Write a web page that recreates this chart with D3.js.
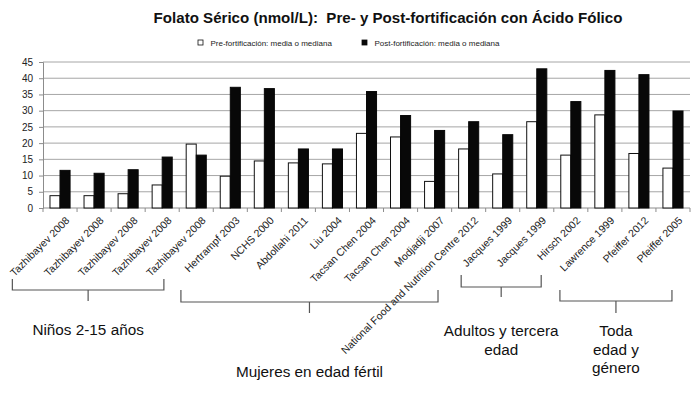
<!DOCTYPE html>
<html>
<head>
  <meta charset="utf-8">
  <title>Folato Sérico</title>
  <style>
    body { margin: 0; padding: 0; background: white; font-family: "Liberation Sans", Arial, sans-serif; }
    .grid line { stroke: #a6a6a6; stroke-width: 1; }
    .axis path, .axis line { stroke: #8c8c8c; }
    .axis text { fill: #222; font-size: 10px; }
    .pre { fill: white; stroke: #111; stroke-width: 1; }
    .post { fill: #080808; stroke: #080808; stroke-width: 1; }
    .bracket { fill: none; stroke: #555; stroke-width: 1.2; }
    .group-label { font-size: 15.3px; fill: #111; text-anchor: middle; }
  </style>
</head>
<body>
  <div id="chart"></div>
  <script src="https://d3js.org/d3.v7.min.js"></script>
  <script>
    // study labels along the x axis
    var studies = ["Tazhibayev 2008", "Tazhibayev 2008", "Tazhibayev 2008", "Tazhibayev 2008",
      "Tazhibayev 2008", "Hertrampf 2003", "NCHS 2000", "Abdollahi 2011", "Liu 2004",
      "Tacsan Chen 2004", "Tacsan Chen 2004", "Modjadji 2007",
      "National Food and Nutrition Centre 2012", "Jacques 1999", "Jacques 1999",
      "Hirsch 2002", "Lawrence 1999", "Pfeiffer 2012", "Pfeiffer 2005"]

    // serum folate, nmol/L
    var preValues = [3.8, 3.8, 4.4, 7.1, 19.7, 9.8, 14.5, 13.9, 13.6, 23.0, 21.9, 8.2,
      18.2, 10.5, 26.6, 16.3, 28.7, 16.8, 12.3]
    var postValues = [11.6, 10.7, 11.8, 15.7, 16.3, 37.2, 36.8, 18.2, 18.2, 35.9, 28.5, 23.9,
      26.6, 22.6, 42.9, 32.8, 42.4, 41.1, 29.9]

    var yTicks = [0, 5, 10, 15, 20, 25, 30, 35, 40, 45]

    var seriesNames = ["Pre-fortificación: media o mediana", "Post-fortificación: media o mediana"]

    // population groups: span in category units (brackets sit under the slanted labels)
    var groups = [
      { lines: ["Niños 2-15 años"], from: -0.9, to: 3.55 },
      { lines: ["Mujeres en edad fértil"], from: 4.05, to: 11.6 },
      { lines: ["Adultos y tercera", "edad"], from: 12.28, to: 14.63 },
      { lines: ["Toda", "edad y", "género"], from: 15.18, to: 18.47 }
    ]
    // bracket layout: top of end ticks, horizontal line, stem bottom, first text baseline
    var bracketLayout = [
      { top: 279, line: 290, stem: 301, text: 335 },
      { top: 290, line: 302, stem: 313, text: 377 },
      { top: 275, line: 287, stem: 297, text: 336 },
      { top: 290, line: 301, stem: 313, text: 336 }
    ]

    var width = 700,
      height = 397
    var margin = { top: 62, right: 10, bottom: 189, left: 43 }
    var plotW = width - margin.left - margin.right,
      plotH = height - margin.top - margin.bottom

    var svg = d3.select("#chart").append("svg")
      .attr("width", width)
      .attr("height", height)

    // title (keeps the double space after the colon)
    svg.append("text")
      .attr("x", 388)
      .attr("y", 23)
      .attr("text-anchor", "middle")
      .style("white-space", "pre")
      .style("font-size", "15.1px")
      .style("font-weight", "bold")
      .style("fill", "#111")
      .text("Folato Sérico (nmol/L):  Pre- y Post-fortificación con Ácido Fólico")

    // legend
    var legend = svg.append("g").attr("class", "legend")
      .selectAll("g")
      .data(seriesNames)
      .enter().append("g")
      .attr("transform", function(d, i) { return "translate(" + (198 + i * 164) + ",40)" })
    legend.append("rect")
      .attr("width", 5).attr("height", 5)
      .attr("class", function(d, i) { return i ? "post" : "pre" })
      .style("stroke-width", 0.8)
    legend.append("text")
      .attr("x", 12.5).attr("y", 6)
      .style("font-size", "8px")
      .style("fill", "#222")
      .text(function(d) { return d })

    var g = svg.append("g")
      .attr("transform", "translate(" + margin.left + "," + margin.top + ")")

    var x = d3.scaleBand()
      .domain(d3.range(studies.length))
      .range([0, plotW])
      .paddingInner(0.41)
      .paddingOuter(0.205)
    var step = plotW / studies.length

    var y = d3.scaleLinear().domain([0, 45]).range([plotH, 0])

    // gridlines
    g.append("g").attr("class", "grid")
      .selectAll("line")
      .data(yTicks.slice(1))
      .enter().append("line")
      .attr("x1", 0).attr("x2", plotW)
      .attr("y1", y).attr("y2", y)

    // y axis
    g.append("g").attr("class", "axis")
      .call(d3.axisLeft(y).tickValues(yTicks).tickSize(4).tickPadding(6))

    // x axis line and tick marks at band boundaries
    var xa = g.append("g").attr("class", "axis")
      .attr("transform", "translate(0," + plotH + ")")
    xa.append("line").attr("x1", 0).attr("x2", plotW)
    xa.selectAll(".tk")
      .data(d3.range(studies.length + 1))
      .enter().append("line")
      .attr("class", "tk")
      .attr("x1", function(d) { return d * step })
      .attr("x2", function(d) { return d * step })
      .attr("y1", 0).attr("y2", 4)

    // bars
    var bw = x.bandwidth() / 2
    g.append("g").selectAll("rect")
      .data(preValues)
      .enter().append("rect")
      .attr("class", "pre")
      .attr("x", function(d, i) { return x(i) })
      .attr("y", function(d) { return y(d) })
      .attr("width", bw)
      .attr("height", function(d) { return plotH - y(d) })

    g.append("g").selectAll("rect")
      .data(postValues)
      .enter().append("rect")
      .attr("class", "post")
      .attr("x", function(d, i) { return x(i) + bw })
      .attr("y", function(d) { return y(d) })
      .attr("width", bw)
      .attr("height", function(d) { return plotH - y(d) })

    // slanted study labels
    g.append("g").selectAll("text")
      .data(studies)
      .enter().append("text")
      .attr("transform", function(d, i) {
        return "translate(" + (x(i) + x.bandwidth() / 2 + 5) + "," + (plotH + 8) + ") rotate(-45)"
      })
      .attr("text-anchor", "end")
      .attr("dy", "0.7em")
      .style("font-size", "10.5px")
      .style("fill", "#222")
      .text(function(d) { return d })

    // group brackets
    groups.forEach(function(grp, i) {
      var L = bracketLayout[i]
      var x0 = margin.left + grp.from * step,
        x1 = margin.left + grp.to * step,
        xm = (x0 + x1) / 2
      svg.append("path")
        .attr("class", "bracket")
        .attr("d", "M" + x0 + "," + L.top + "V" + L.line + "H" + x1 + "V" + L.top +
          "M" + xm + "," + L.line + "V" + L.stem)
      var t = svg.append("text")
        .attr("class", "group-label")
        .attr("x", xm)
        .attr("y", L.text)
      grp.lines.forEach(function(line, k) {
        t.append("tspan")
          .attr("x", xm)
          .attr("dy", k ? 18.5 : 0)
          .text(line)
      })
    })
  </script>
</body>
</html>
